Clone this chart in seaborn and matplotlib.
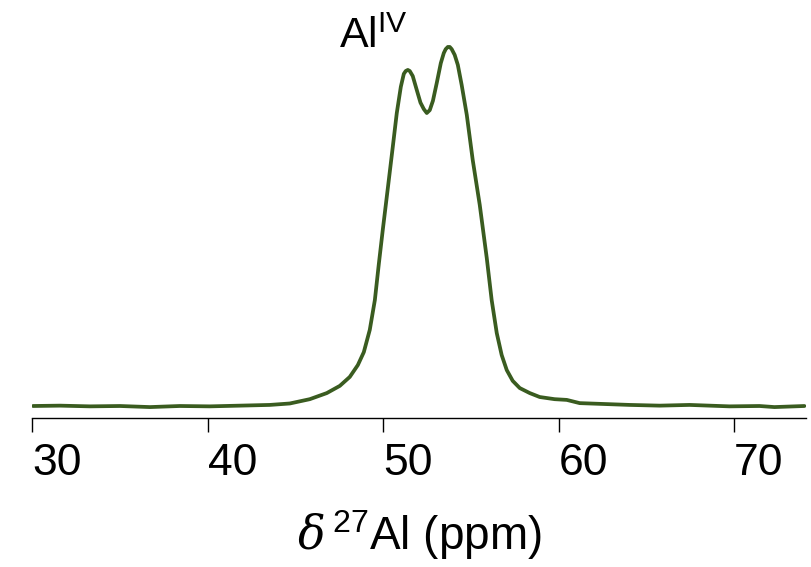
import matplotlib
matplotlib.use("Agg")
import matplotlib.pyplot as plt
import seaborn as sns
import pandas as pd

ppm = [30.03, 31.57, 33.28, 34.99, 36.70, 38.40, 40.11, 41.82, 43.53, 44.67,
       45.81, 46.78, 47.52, 48.09, 48.55, 48.89, 49.23, 49.52, 49.74, 49.97,
       50.26, 50.54, 50.77, 51.00, 51.17, 51.28, 51.40, 51.51, 51.68, 51.91,
       52.12, 52.31, 52.48, 52.65, 52.83, 53.05, 53.28, 53.45, 53.56, 53.68,
       53.79, 53.90, 54.07, 54.25, 54.47, 54.76, 55.10,
       55.50, 55.90, 56.18, 56.47, 56.75, 57.04, 57.38, 57.78, 58.35, 58.92,
       59.77, 60.46, 61.20, 62.34, 64.05, 65.76, 67.46, 68.60, 69.74, 71.45,
       72.30, 74.01]
intensity = [0.0, 0.001, -0.001, 0.0, -0.003, 0.0, -0.001, 0.001, 0.003, 0.007,
             0.019, 0.036, 0.056, 0.081, 0.114, 0.150, 0.212, 0.295, 0.393, 0.490,
             0.607, 0.721, 0.816, 0.889, 0.925, 0.933, 0.936, 0.933, 0.919, 0.880,
             0.845, 0.827, 0.816, 0.824, 0.850, 0.900, 0.955, 0.983, 0.994, 1.0,
             1.0, 0.994, 0.978, 0.950, 0.894, 0.811, 0.685,
             0.560, 0.412, 0.295, 0.203, 0.142, 0.100, 0.070, 0.050, 0.036, 0.025,
             0.019, 0.017, 0.008, 0.006, 0.003, 0.001, 0.003, 0.001, -0.001, 0.0,
             -0.003, 0.0]
xticks = [30, 40, 50, 60, 70]
xlabel = r"$\delta\,$$^{27}$Al (ppm)"
peak_label = r"Al$^{\mathrm{IV}}$"

sns.set_style("white")
fam = "Liberation Sans"
plt.rcParams["font.family"] = [fam, "DejaVu Sans"]
plt.rcParams["mathtext.fontset"] = "custom"
plt.rcParams["mathtext.rm"] = fam
plt.rcParams["mathtext.it"] = "DejaVu Serif:italic"
plt.rcParams["text.color"] = "black"
plt.rcParams["axes.labelcolor"] = "black"

df = pd.DataFrame({"ppm": ppm, "intensity": intensity})

fig = plt.figure(figsize=(8.12, 5.67), dpi=100)
ax = fig.add_axes([0.040, 0.2628, 0.9526, 0.7196])
sns.lineplot(data=df, x="ppm", y="intensity", ax=ax, color="#3a5c20",
             linewidth=2.7, sort=False)

ax.set_xlim(30, 74.1)
ax.set_ylim(-0.0334, 1.103)
ax.set_xticks(xticks)
ax.set_xticklabels([str(t) for t in xticks])
for lbl in ax.get_xticklabels():
    lbl.set_horizontalalignment("left")
ax.set_yticks([])
ax.set_ylabel("")
for s in ["left", "right", "top"]:
    ax.spines[s].set_visible(False)
ax.spines["bottom"].set_color("black")
ax.spines["bottom"].set_linewidth(1.0)
ax.tick_params(axis="x", direction="out", length=10, width=1.0, colors="black",
               labelsize=32, pad=8, bottom=True)
ax.set_xlabel(xlabel, fontsize=33, labelpad=18, color="black")
ax.text(47.5, 0.997, peak_label, fontsize=31, ha="left", va="baseline",
        clip_on=False, color="black")

fig.savefig("out.png", dpi=100)
